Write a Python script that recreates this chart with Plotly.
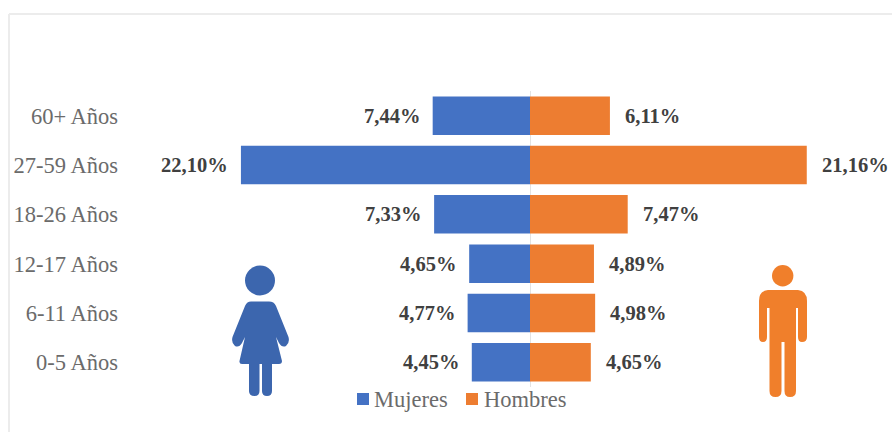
import plotly.graph_objects as go

W, H = 896, 432
ML, MR, MT, MB = 125, 0, 91, 45
PX_PER_UNIT = 13.08
CENTER_X = 530

age_groups = ["0-5 Años", "6-11 Años", "12-17 Años", "18-26 Años", "27-59 Años", "60+ Años"]
mujeres = [4.45, 4.77, 4.65, 7.33, 22.10, 7.44]
hombres = [4.65, 4.98, 4.89, 7.47, 21.16, 6.11]
series_names = ["Mujeres", "Hombres"]

BLUE = "#4472C4"
ORANGE = "#ED7D31"
ICON_BLUE = "#3C66AE"
ICON_ORANGE = "#F07F2B"
SERIF = "Liberation Serif"


def pct(v):
    return f"{v:.2f}".replace(".", ",") + "%"


def px(x):
    return (x - ML) / (W - ML - MR)


def py(y):
    return 1 - (y - MT) / (H - MT - MB)


def pixel_path(cmds):
    # Commands are (letter, x1, y1, x2, y2, ...) in page pixels; shapes use paper coordinates.
    parts = []
    for c in cmds:
        if c[0] == "Z":
            parts.append("Z")
            continue
        nums = c[1:]
        pts = [f"{px(nums[i]):.5f},{py(nums[i + 1]):.5f}" for i in range(0, len(nums), 2)]
        parts.append(c[0] + " ".join(pts))
    return " ".join(parts)


def filled(cmds, color):
    return dict(type="path", xref="paper", yref="paper", path=pixel_path(cmds),
                fillcolor=color, line=dict(width=0), layer="above")


def head(cx, cy, r, color):
    return dict(type="circle", xref="paper", yref="paper",
                x0=px(cx - r), x1=px(cx + r), y0=py(cy + r), y1=py(cy - r),
                fillcolor=color, line=dict(width=0), layer="above")


def key_square(x0, color):
    return dict(type="rect", xref="paper", yref="paper",
                x0=px(x0), x1=px(x0 + 12), y0=py(405), y1=py(393),
                fillcolor=color, line=dict(width=0), layer="above")


woman_body = [
    ("M", 251, 301.5), ("L", 269, 301.5), ("Q", 274, 301.5, 276, 306),
    ("L", 288.5, 337), ("Q", 290, 343, 286, 346), ("Q", 282, 348, 279, 343),
    ("L", 276, 337), ("L", 282, 361), ("Q", 282, 364, 279, 364),
    ("L", 272, 364), ("L", 272, 391), ("Q", 272, 396, 267, 396), ("Q", 262, 396, 262, 391),
    ("L", 262, 364), ("L", 259.5, 364), ("L", 259.5, 391), ("Q", 259.5, 396, 254.5, 396),
    ("Q", 249, 396, 249, 391), ("L", 249, 364), ("L", 242, 364), ("Q", 239, 364, 239.5, 361),
    ("L", 245, 337), ("L", 242, 343), ("Q", 239, 348, 235, 346), ("Q", 231, 343, 232.5, 337),
    ("L", 245, 306), ("Q", 247, 301.5, 251, 301.5), ("Z",),
]

man_body = [
    ("M", 768, 290), ("L", 798, 290), ("Q", 807, 291, 807, 301),
    ("L", 807, 337), ("Q", 807, 342, 802, 342), ("Q", 798, 342, 798, 337),
    ("L", 798, 308), ("L", 796, 308), ("L", 796, 391), ("Q", 796, 397, 790, 397),
    ("Q", 784.5, 397, 784.5, 391), ("L", 784.5, 342), ("L", 781.5, 342), ("L", 781.5, 391),
    ("Q", 781.5, 397, 775.5, 397), ("Q", 769.5, 397, 769.5, 391), ("L", 769.5, 308),
    ("L", 767, 308), ("L", 767, 337), ("Q", 767, 342, 763, 342), ("Q", 759, 342, 759, 337),
    ("L", 759, 301), ("Q", 759, 291, 768, 290), ("Z",),
]

fig = go.Figure()
fig.add_bar(name=series_names[0], y=age_groups, x=[-v for v in mujeres], orientation="h",
            marker=dict(color=BLUE, line=dict(width=0)))
fig.add_bar(name=series_names[1], y=age_groups, x=hombres, orientation="h",
            marker=dict(color=ORANGE, line=dict(width=0)))

# Value labels sit a fixed distance beyond each bar end.
label_font = dict(family=SERIF, size=20.5, color="#404040", weight="bold")
annotations = []
for cat, m, h in zip(age_groups, mujeres, hombres):
    annotations.append(dict(x=-m, y=cat, text=pct(m), showarrow=False, xanchor="right",
                            xshift=-11, font=label_font))
    annotations.append(dict(x=h, y=cat, text=pct(h), showarrow=False, xanchor="left",
                            xshift=13, font=label_font))

# Compact key under the bars: swatch and name sit close together.
key_font = dict(family=SERIF, size=22.5, color="#6b6b6b")
annotations.append(dict(xref="paper", yref="paper", x=px(372), y=py(399), text=series_names[0],
                        showarrow=False, xanchor="left", yanchor="middle", font=key_font))
annotations.append(dict(xref="paper", yref="paper", x=px(482), y=py(399), text=series_names[1],
                        showarrow=False, xanchor="left", yanchor="middle", font=key_font))

shapes = [
    # Outer frame of the chart area
    dict(type="line", xref="paper", yref="paper", x0=px(9), x1=px(892), y0=py(14), y1=py(14),
         line=dict(color="#ececec", width=2), layer="below"),
    dict(type="line", xref="paper", yref="paper", x0=px(9), x1=px(9), y0=py(14), y1=py(432),
         line=dict(color="#ececec", width=2), layer="below"),
    head(260, 280.5, 15, ICON_BLUE),
    filled(woman_body, ICON_BLUE),
    head(782.7, 275.7, 10.7, ICON_ORANGE),
    filled(man_body, ICON_ORANGE),
    key_square(357, BLUE),
    key_square(466, ORANGE),
]

fig.update_layout(
    width=W, height=H,
    margin=dict(l=ML, r=MR, t=MT, b=MB),
    paper_bgcolor="white", plot_bgcolor="white",
    barmode="relative", bargap=0.22,
    showlegend=False,
    xaxis=dict(range=[-(CENTER_X - ML) / PX_PER_UNIT, (W - MR - CENTER_X) / PX_PER_UNIT],
               showgrid=False, showticklabels=False, ticks="", zeroline=True,
               zerolinecolor="#e3e3e3", zerolinewidth=1, fixedrange=True),
    yaxis=dict(categoryorder="array", categoryarray=age_groups, showgrid=False, ticks="",
               showline=False, tickfont=dict(family=SERIF, size=22.5, color="#6b6b6b"),
               ticklabelstandoff=6, fixedrange=True),
    annotations=annotations,
    shapes=shapes,
)

fig.write_html("out.html", config=dict(displayModeBar=False))
